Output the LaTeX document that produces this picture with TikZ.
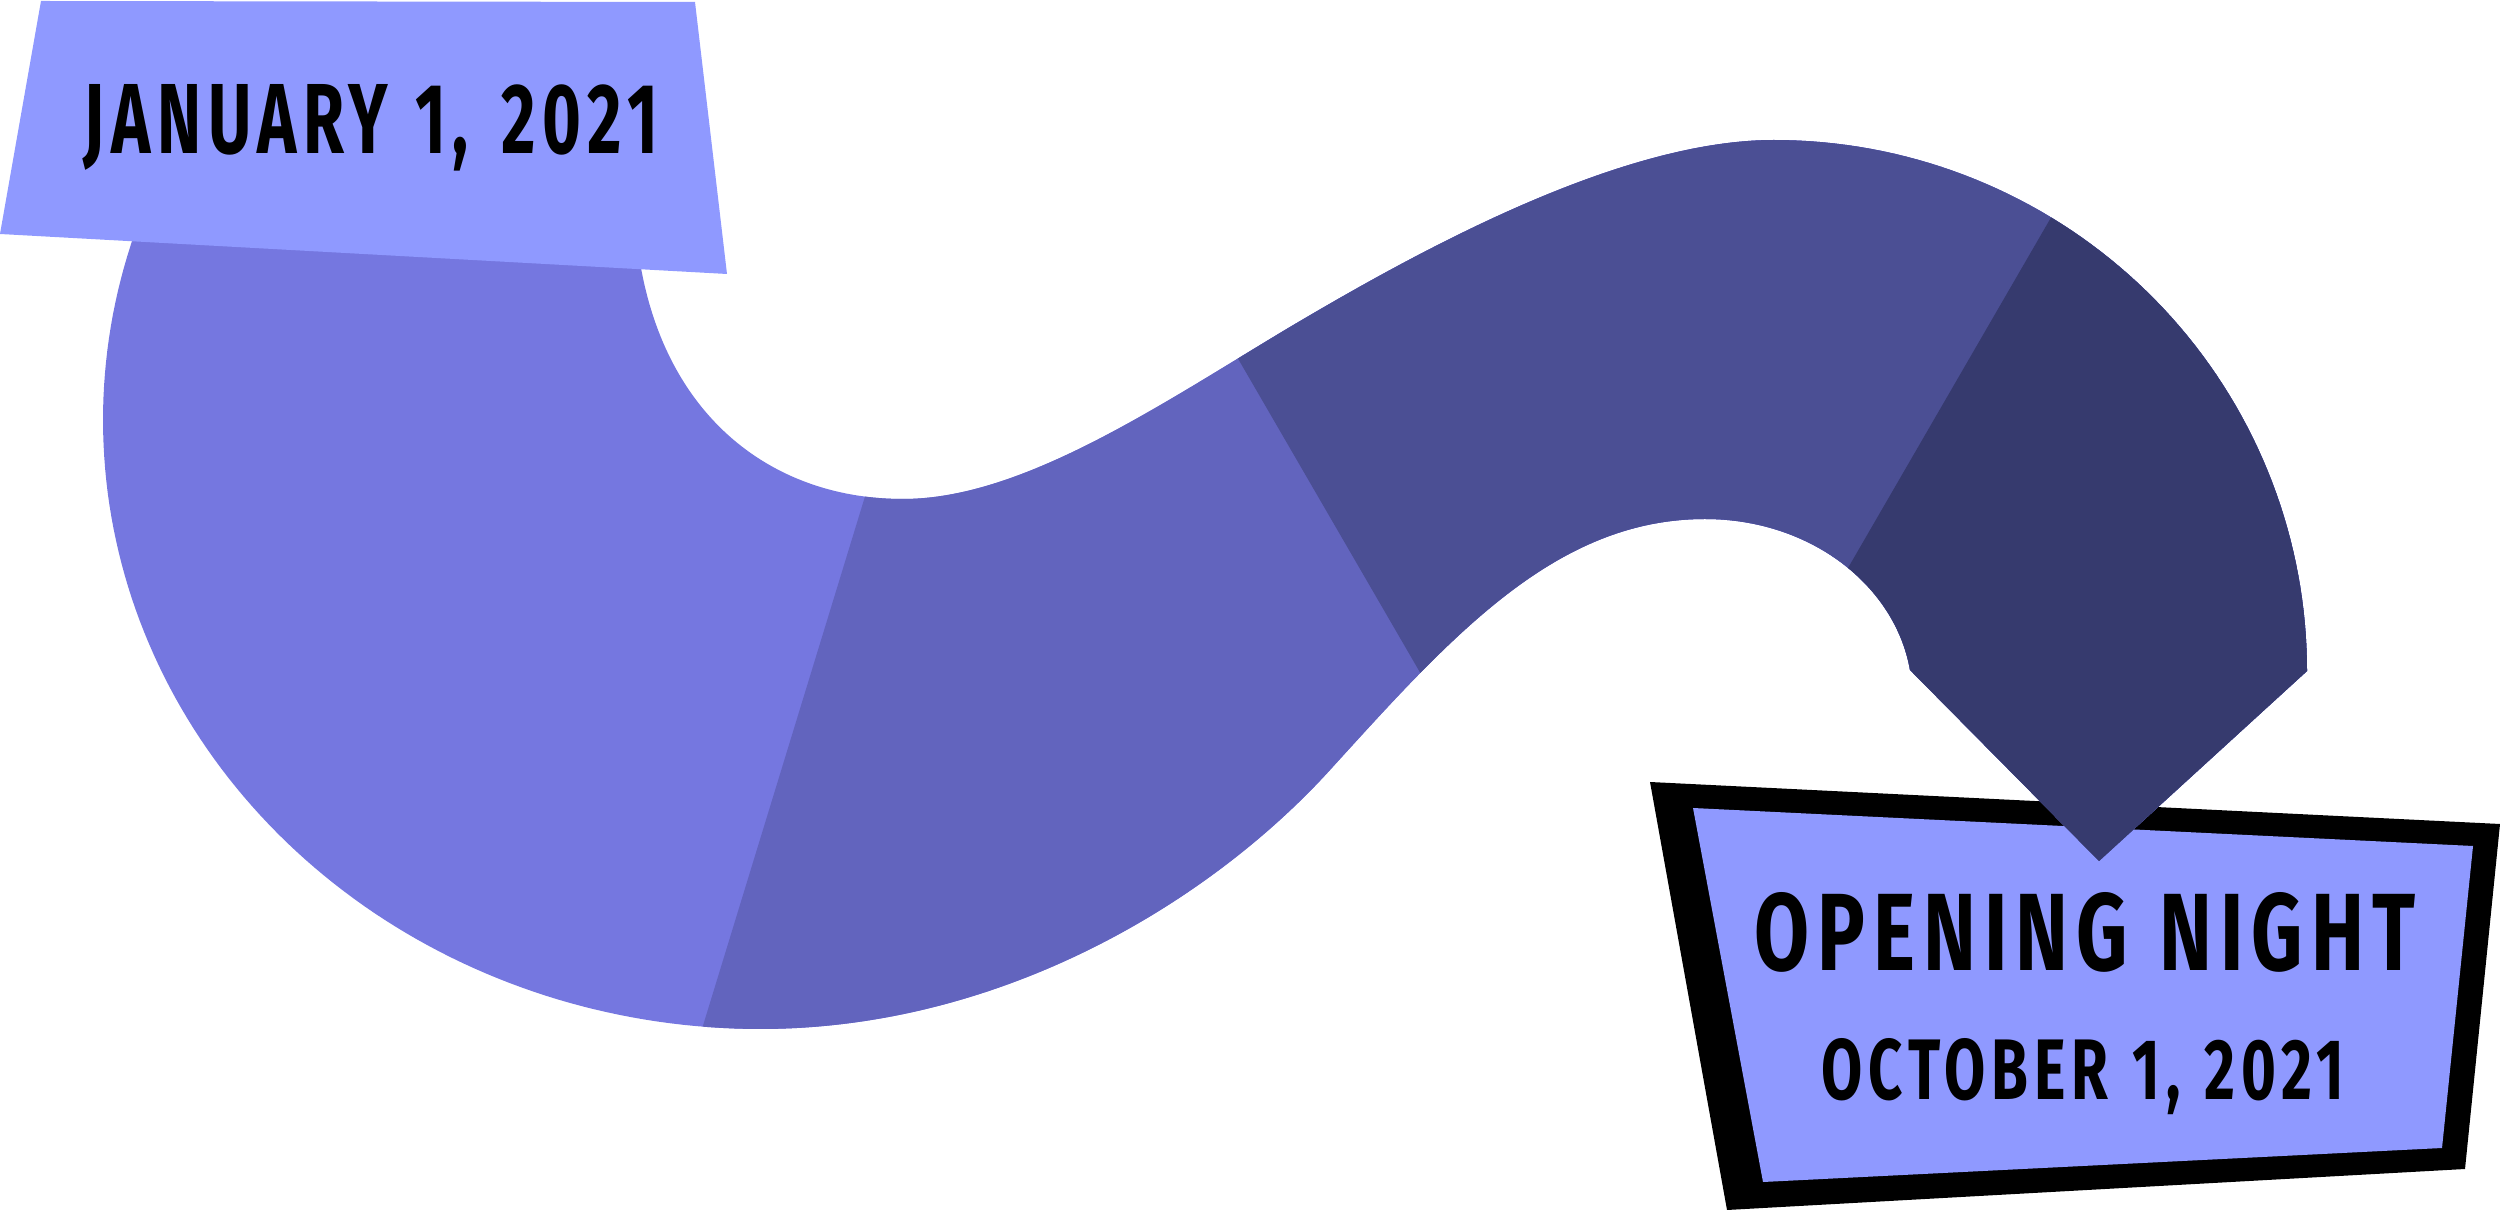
\documentclass[tikz,border=0pt]{standalone}
\usepackage{fontspec}
\usepackage{graphicx}
\newfontfamily\lblfont{Fira Sans}[LetterSpace=10]
\definecolor{segA}{HTML}{7577E0}
\definecolor{segB}{HTML}{6264BE}
\definecolor{segC}{HTML}{4B4F94}
\definecolor{segD}{HTML}{363A6E}
\definecolor{tagfill}{HTML}{8F99FF}
\newcommand{\ribbonshape}{(147,200)
  -- plot[domain=201.2:90, samples=100, variable=\t] ({760+657*cos(\t)},{420+609*sin(\t)})
  .. controls (1000,1029) and (1209,903) .. (1330,770)
  .. controls (1451,637) and (1555,519) .. (1705,519)
  .. controls (1810,519) and (1895,585) .. (1910,670)
  -- (2099,861) -- (2307,671)
  -- plot[domain=0:-90, samples=70, variable=\t] ({1774+533*cos(\t)},{671+531*sin(\t)})
  .. controls (1620,140) and (1420,250) .. (1290,327)
  .. controls (1161,404) and (1023,499) .. (903,499)
  .. controls (760,499) and (640,400) .. (634,200)
  -- cycle}
\begin{document}
\begin{tikzpicture}[x=0.01cm,y=-0.01cm,
  tagtext/.style={inner sep=0pt, outer sep=0pt, text=black, anchor=base}]
\useasboundingbox (0,0) rectangle (2500,1210);
% Opening night tag
\fill[black] (1650,782) -- (2500,824) -- (2465,1169) -- (1727,1210) -- cycle;
\fill[tagfill] (1693,808) -- (2473,846) -- (2442,1148) -- (1763,1182) -- cycle;
% ribbon, four colour bands
\fill[segA] \ribbonshape;
\begin{scope}
  \clip (1017,0) -- (2600,0) -- (2600,1300) -- (619,1300) -- cycle;
  \fill[segB] \ribbonshape;
\end{scope}
\begin{scope}
  \clip (1030,0) -- (2600,0) -- (2600,1300) -- (1784,1300) -- cycle;
  \fill[segC] \ribbonshape;
\end{scope}
\begin{scope}
  \clip (2177,0) -- (2600,0) -- (2600,1300) -- (1424,1300) -- cycle;
  \fill[segD] \ribbonshape;
\end{scope}
% January tag
\fill[tagfill] (41,1) -- (695,2) -- (727,274) -- (0,234) -- cycle;
\node[tagtext] (jan) at (371,154) {\resizebox{5.74cm}{0.69cm}{\lblfont\bfseries JANUARY\hspace{0.4em}1,\hspace{0.5em}2021}};
\node[tagtext] (opening) at (2085,971) {\resizebox{6.60cm}{0.78cm}{\lblfont\bfseries OPENING\hspace{0.4em}NIGHT}};
\node[tagtext] (october) at (2083,1099) {\resizebox{5.23cm}{0.61cm}{\lblfont\bfseries OCTOBER\hspace{0.4em}1,\hspace{0.4em}2021}};
\end{tikzpicture}
\end{document}
